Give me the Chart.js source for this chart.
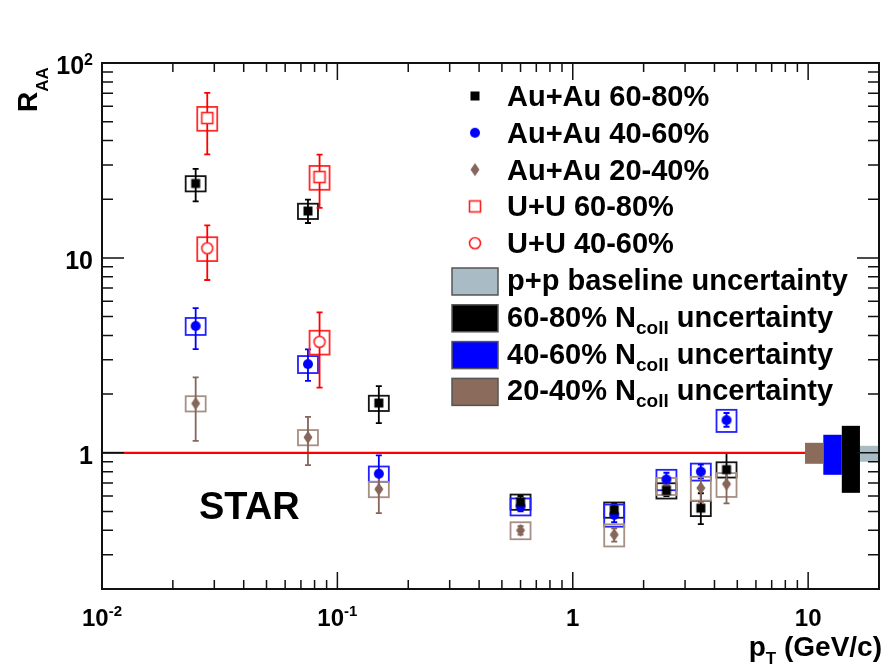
<!DOCTYPE html>
<html>
<head>
<meta charset="utf-8">
<script src="https://cdn.jsdelivr.net/npm/chart.js@4.4.1/dist/chart.umd.min.js"></script>
<style>
  html, body { margin: 0; padding: 0; background: #fff; }
  canvas { display: block; }
</style>
</head>
<body>
<canvas id="raaChart" width="885" height="670"></canvas>
<script>
// R_AA vs pT, STAR

const auPt = [0.025, 0.075, 0.15, 0.6, 1.5, 2.5, 3.5, 4.5];
const uuPt = [0.028, 0.084];

// Au+Au 60-80%
const au6080 = [24.1, 17.4, 1.80, 0.56, 0.51, 0.64, 0.52, 0.82];
const au6080Lo = [19.5, 15.1, 1.42, 0.53, 0.48, 0.60, 0.43, 0.70];
const au6080Hi = [28.6, 19.9, 2.20, 0.60, 0.55, 0.68, 0.62, 1.00];
const au6080Sys = [0.09, 0.09, 0.09, 0.09, 0.09, 0.09, 0.09, 0.09];

// Au+Au 40-60%
const au4060 = [4.47, 2.85, 0.78, 0.53, 0.48, 0.73, 0.80, 1.47];
const au4060Lo = [3.40, 2.34, 0.66, 0.50, 0.44, 0.67, 0.74, 1.36];
const au4060Hi = [5.52, 3.39, 0.97, 0.57, 0.53, 0.79, 0.87, 1.60];
const au4060Sys = [0.10, 0.10, 0.09, 0.10, 0.13, 0.12, 0.10, 0.13];

// Au+Au 20-40%
const au2040 = [1.79, 1.20, 0.65, 0.40, 0.38, 0.675, 0.66, 0.69];
const au2040Lo = [1.15, 0.865, 0.49, 0.38, 0.35, 0.63, 0.56, 0.55];
const au2040Hi = [2.44, 1.53, 0.81, 0.42, 0.41, 0.72, 0.78, 0.85];
const au2040Sys = [0.09, 0.09, 0.09, 0.10, 0.13, 0.10, 0.14, 0.14];

// U+U
const uu6080 = [52.2, 26.0];
const uu6080Lo = [34.0, 18.05];
const uu6080Hi = [70.2, 33.9];
const uu6080Sys = [0.14, 0.14];

const uu4060 = [11.2, 3.71];
const uu4060Lo = [7.7, 2.16];
const uu4060Hi = [14.7, 5.25];
const uu4060Sys = [0.14, 0.14];

// normalisation uncertainty bands at R_AA = 1 (legend order)
const bandLabels = [
  ['p+p baseline uncertainty', '', ''],
  ['60-80% N', 'coll', ' uncertainty'],
  ['40-60% N', 'coll', ' uncertainty'],
  ['20-40% N', 'coll', ' uncertainty']
];
const bandXLo = [16.6, 13.9, 11.6, 9.7];
const bandXHi = [20, 16.6, 13.9, 11.6];
const bandYLo = [0.899, 0.623, 0.771, 0.878];
const bandYHi = [1.086, 1.375, 1.237, 1.125];
const bandColors = ['#a9bcc6', '#000000', '#0000ff', '#8b6b5b'];

// axis ticks
const xTickVals = [0.01, 0.1, 1, 10];
const xTickBase = ['10', '10', '1', '10'];
const xTickExp = ['-2', '-1', '', ''];
const yTickVals = [1, 10, 100];
const yTickBase = ['1', '10', '10'];
const yTickExp = ['', '', '2'];

const FONT = '"Liberation Sans", Arial, Helvetica, sans-serif';

function markerCanvas(kind, color) {
  const c = document.createElement('canvas');
  c.width = 16; c.height = 16;
  const g = c.getContext('2d');
  const m = 8;
  g.fillStyle = color;
  g.strokeStyle = color;
  g.lineWidth = 1.6;
  if (kind === 'square') {
    g.fillRect(m - 4.5, m - 4.5, 9, 9);
  } else if (kind === 'circle') {
    g.beginPath(); g.arc(m, m, 5, 0, 2 * Math.PI); g.fill();
  } else if (kind === 'diamond') {
    g.beginPath();
    g.moveTo(m, m - 6.5); g.lineTo(m + 4.5, m); g.lineTo(m, m + 6.5); g.lineTo(m - 4.5, m);
    g.closePath(); g.fill();
  } else if (kind === 'openSquare') {
    g.fillStyle = '#fff';
    g.fillRect(m - 5.5, m - 5.5, 11, 11);
    g.strokeRect(m - 5.5, m - 5.5, 11, 11);
  } else if (kind === 'openCircle') {
    g.fillStyle = '#fff';
    g.beginPath(); g.arc(m, m, 5.5, 0, 2 * Math.PI); g.fill(); g.stroke();
  }
  return c;
}

const series = [
  { label: 'Au+Au 60-80%', x: auPt, y: au6080, lo: au6080Lo, hi: au6080Hi, sys: au6080Sys,
    color: '#000000', boxColor: '#151515', marker: markerCanvas('square', '#000') },
  { label: 'Au+Au 40-60%', x: auPt, y: au4060, lo: au4060Lo, hi: au4060Hi, sys: au4060Sys,
    color: '#0000ff', boxColor: '#2222ff', marker: markerCanvas('circle', '#0000ff') },
  { label: 'Au+Au 20-40%', x: auPt, y: au2040, lo: au2040Lo, hi: au2040Hi, sys: au2040Sys,
    color: '#86655a', boxColor: '#a68f85', marker: markerCanvas('diamond', '#86655a') },
  { label: 'U+U 60-80%', x: uuPt, y: uu6080, lo: uu6080Lo, hi: uu6080Hi, sys: uu6080Sys,
    color: '#ff0000', boxColor: '#ff2a2a', marker: markerCanvas('openSquare', '#ff2020') },
  { label: 'U+U 40-60%', x: uuPt, y: uu4060, lo: uu4060Lo, hi: uu4060Hi, sys: uu4060Sys,
    color: '#ff0000', boxColor: '#ff2a2a', marker: markerCanvas('openCircle', '#ff2020') }
];

function logTicks(min, max) {
  const out = [];
  for (let e = Math.floor(Math.log10(min)); e <= Math.ceil(Math.log10(max)); e++) {
    for (let m = 1; m <= 9; m++) {
      const v = m * Math.pow(10, e);
      if (v > min * 1.001 && v < max * 0.999) out.push({ v: v, major: m === 1 });
    }
  }
  return out;
}

function richText(ctx, parts, x, base, align) {
  let w = 0;
  parts.forEach(p => { ctx.font = 'bold ' + p[1] + 'px ' + FONT; w += ctx.measureText(p[0]).width; });
  let cx = align === 'right' ? x - w : (align === 'center' ? x - w / 2 : x);
  parts.forEach(p => {
    ctx.font = 'bold ' + p[1] + 'px ' + FONT;
    ctx.fillText(p[0], cx, base + p[2]);
    cx += ctx.measureText(p[0]).width;
  });
}

const raaDecor = {
  id: 'raaDecor',
  beforeDatasetsDraw(chart) {
    const ctx = chart.ctx;
    const xs = chart.scales.x, ys = chart.scales.y;
    ctx.save();
    ctx.lineWidth = 1.8;
    series.forEach(s => {
      s.x.forEach((xv, i) => {
        const px = xs.getPixelForValue(xv);
        const top = ys.getPixelForValue(s.y[i] * (1 + s.sys[i]));
        const bot = ys.getPixelForValue(s.y[i] * (1 - s.sys[i]));
        ctx.strokeStyle = s.boxColor;
        ctx.strokeRect(px - 10, top, 20, bot - top);
        const hi = ys.getPixelForValue(s.hi[i]);
        const lo = ys.getPixelForValue(s.lo[i]);
        ctx.strokeStyle = s.color;
        ctx.beginPath();
        ctx.moveTo(px, hi); ctx.lineTo(px, lo);
        ctx.moveTo(px - 3, hi); ctx.lineTo(px + 3, hi);
        ctx.moveTo(px - 3, lo); ctx.lineTo(px + 3, lo);
        ctx.stroke();
      });
    });
    ctx.restore();
  },
  afterDatasetsDraw(chart) {
    const ctx = chart.ctx;
    const a = chart.chartArea;
    const xs = chart.scales.x, ys = chart.scales.y;
    ctx.save();

    // normalisation bands
    bandColors.forEach((c, i) => {
      const x0 = xs.getPixelForValue(bandXLo[i]), x1 = xs.getPixelForValue(bandXHi[i]);
      const y0 = ys.getPixelForValue(bandYHi[i]), y1 = ys.getPixelForValue(bandYLo[i]);
      ctx.fillStyle = c;
      ctx.fillRect(x0, y0, x1 - x0, y1 - y0);
    });

    // frame + inward ticks on all sides
    ctx.strokeStyle = '#111';
    ctx.lineWidth = 2;
    ctx.strokeRect(a.left, a.top, a.right - a.left, a.bottom - a.top);
    ctx.lineWidth = 1.5;
    ctx.beginPath();
    logTicks(xs.min, xs.max).forEach(t => {
      const px = xs.getPixelForValue(t.v);
      const len = t.major ? 17 : 9;
      ctx.moveTo(px, a.bottom); ctx.lineTo(px, a.bottom - len);
      ctx.moveTo(px, a.top); ctx.lineTo(px, a.top + len);
    });
    logTicks(ys.min, ys.max).forEach(t => {
      const py = ys.getPixelForValue(t.v);
      const len = t.major ? 22 : 11;
      ctx.moveTo(a.left, py); ctx.lineTo(a.left + len, py);
      ctx.moveTo(a.right, py); ctx.lineTo(a.right - len, py);
    });
    ctx.stroke();

    // tick labels
    ctx.fillStyle = '#000';
    ctx.textAlign = 'left';
    ctx.textBaseline = 'alphabetic';
    xTickVals.forEach((v, i) => {
      const parts = [[xTickBase[i], 24, 0]];
      if (xTickExp[i]) parts.push([xTickExp[i], 15, -10]);
      richText(ctx, parts, xs.getPixelForValue(v), 626, 'center');
    });
    yTickVals.forEach((v, i) => {
      const parts = [[yTickBase[i], 25, 0]];
      if (yTickExp[i]) parts.push([yTickExp[i], 16, -9]);
      richText(ctx, parts, 93, ys.getPixelForValue(v) + 11, 'right');
    });

    // axis titles
    richText(ctx, [['p', 28, 0], ['T', 17, 8], [' (GeV/c)', 28, 0]], 882, 656, 'right');
    ctx.save();
    ctx.translate(37, 112);
    ctx.rotate(-Math.PI / 2);
    richText(ctx, [['R', 28, 0], ['AA', 17, 11]], 0, 0, 'left');
    ctx.restore();

    // STAR label
    ctx.font = 'bold 38px ' + FONT;
    ctx.fillText('STAR', 199, 519);

    // legend
    const rowBase = i => 106 + i * 36.8;
    series.forEach((s, i) => {
      const b = rowBase(i);
      ctx.drawImage(s.marker, 475 - 8, b - 10 - 8);
      richText(ctx, [[s.label, 29, 0]], 507, b, 'left');
    });
    bandLabels.forEach((lab, j) => {
      const i = j + series.length;
      const b = rowBase(i);
      ctx.fillStyle = bandColors[j];
      ctx.fillRect(452, b - 22, 46, 27);
      ctx.strokeStyle = '#555';
      ctx.lineWidth = 1.5;
      ctx.strokeRect(452, b - 22, 46, 27);
      ctx.fillStyle = '#000';
      const parts = [[lab[0], 29, 0]];
      if (lab[1]) parts.push([lab[1], 19, 7]);
      if (lab[2]) parts.push([lab[2], 29, 0]);
      richText(ctx, parts, 507, b, 'left');
    });

    ctx.restore();
  }
};

const datasets = series.map(s => ({
  label: s.label,
  data: s.x.map((xv, i) => ({ x: xv, y: s.y[i] })),
  pointStyle: s.marker,
  pointRadius: 5,
  pointHoverRadius: 5,
  showLine: false
}));
datasets.push({
  label: 'unity',
  data: [{ x: 0.01, y: 1 }, { x: 10, y: 1 }],
  showLine: true,
  borderColor: '#ff0000',
  borderWidth: 2.2,
  pointRadius: 0,
  order: 10
});

new Chart(document.getElementById('raaChart'), {
  type: 'scatter',
  data: { datasets: datasets },
  options: {
    responsive: false,
    animation: false,
    devicePixelRatio: 1,
    layout: { padding: { left: 102, right: 3, top: 63, bottom: 81 } },
    plugins: { legend: { display: false }, tooltip: { enabled: false } },
    scales: {
      x: { type: 'logarithmic', min: 0.01, max: 20, display: false },
      y: { type: 'logarithmic', min: 0.2, max: 100, display: false }
    }
  },
  plugins: [raaDecor]
});
</script>
</body>
</html>
